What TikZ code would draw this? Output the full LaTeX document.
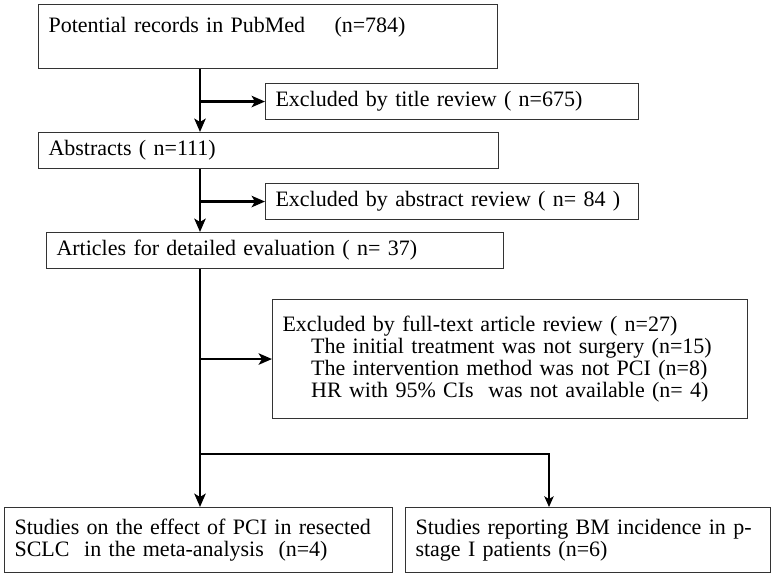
\documentclass[tikz,border=0pt]{standalone}
\usepackage{fontspec}
\setmainfont{Liberation Serif}
\usetikzlibrary{arrows.meta}

\tikzset{
  box/.style={draw=black!80,line width=0.8pt,anchor=north west,align=left,
    inner xsep=7.5pt,inner ysep=0pt,
    font=\fontsize{16.5pt}{16.5pt}\selectfont},
  flow/.style={line width=2pt,-{Stealth[length=10pt,width=8.5pt,inset=2.5pt]}},
  thinflow/.style={line width=1.3pt,-{Stealth[length=8pt,width=7pt,inset=2pt]}}
}

\begin{document}
\begin{tikzpicture}[x=0.75pt,y=-0.75pt]
    \useasboundingbox (0,0) rectangle (773,575);
    \node[box,text width=329.25pt,text height=20pt,text depth=26pt,inner ysep=1pt] (pot) at (38,4)
        {Potential records in PubMed \ \ \ (n=784)};
    \node[box,text width=264.75pt,minimum height=27pt] (title) at (265,83)
        {Excluded by title review ( n=675)};
    \node[box,text width=330pt,minimum height=27pt] (abs) at (38,132)
        {Abstracts ( n=111)};
    \node[box,text width=264.75pt,minimum height=27pt] (absx) at (265,183)
        {Excluded by abstract review ( n= 84 )};
    \node[box,text width=327.75pt,minimum height=27pt] (art) at (46,232)
        {Articles for detailed evaluation ( n= 37)};
    \node[box,text width=341.25pt,minimum height=89.25pt] (full) at (272,299)
        {Excluded by full-text article review ( n=27)\\
         \hspace*{21.5pt}The initial treatment was not surgery (n=15)\\
         \hspace*{21.5pt}The intervention method was not PCI (n=8)\\
         \hspace*{21.5pt}HR with 95\% CIs \ was not available (n= 4)};
    \node[box,text width=276pt,minimum height=48.75pt] (meta) at (4,507)
        {Studies on the effect of PCI in resected\\
         SCLC \ in the meta-analysis \ (n=4)};
    \node[box,text width=258.75pt,minimum height=48.75pt] (bm) at (405,507)
        {Studies reporting BM incidence in p-\\
         stage I patients (n=6)};
    \coordinate (spine) at (200,0);
    \coordinate (fork) at (200,454);
    \coordinate (drop) at (549,454);
    \draw[flow] (pot.south -| spine) -- (abs.north -| spine);
    \draw[flow] (title.west -| spine) -- (title.west);
    \draw[flow] (abs.south -| spine) -- (art.north -| spine);
    \draw[flow] (absx.west -| spine) -- (absx.west);
    \draw[flow] (art.south -| spine) -- (meta.north -| spine);
    \draw[flow] (full.west -| spine) -- (full.west);
    \draw[thinflow] (fork) -- (drop) -- (drop |- bm.north);
\end{tikzpicture}
\end{document}
